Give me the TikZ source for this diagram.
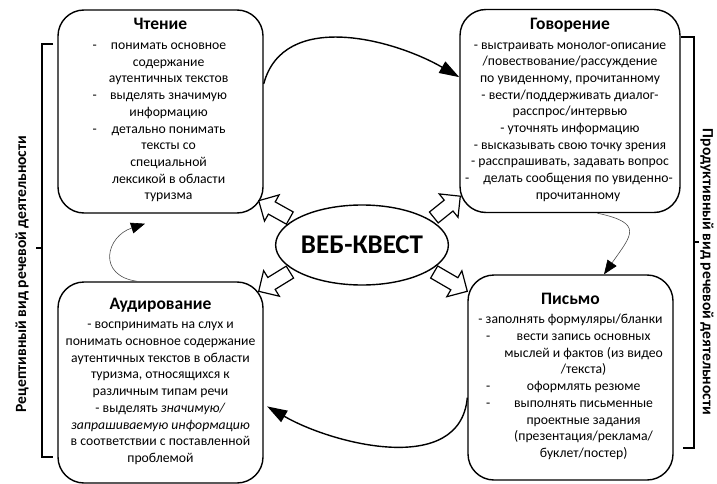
\documentclass[tikz,border=0pt]{standalone}
\usepackage{fontspec}
\setmainfont{Carlito}
\usetikzlibrary{shapes.geometric,arrows.meta,calc}

\newcommand\bodysize{\fontsize{13.7}{16.7}\selectfont}
\newcommand\headsize{\fontsize{17.5}{20}\selectfont\bfseries}
\newcommand\fatarrow[2]{%
  \coordinate (fa-t) at ($(#1)!4pt!(#2)$);
  \coordinate (fa-h) at ($(#2)!15pt!(#1)$);
  \draw[fat] ($(fa-t)!7pt!90:(#2)$) -- ($(fa-h)!7pt!90:(#2)$) --
    ($(fa-h)!15pt!90:(#2)$) -- (#2) -- ($(fa-h)!15pt!-90:(#2)$) --
    ($(fa-h)!7pt!-90:(#2)$) -- ($(fa-t)!7pt!-90:(#2)$) -- cycle;}

\begin{document}
\begin{tikzpicture}[
    x = 1pt, y = -1pt,
    skill/.style = {draw, line width=1.4pt, rounded corners=26pt,
      minimum width=205, minimum height=203, inner sep=0pt, font=\bodysize},
    quest/.style = {draw, ellipse, line width=1.4pt, minimum width=143,
      minimum height=80, inner sep=0pt, font=\fontsize{27}{30}\selectfont\bfseries},
    side/.style = {font=\fontsize{15.6}{18}\selectfont\bfseries},
    fat/.style = {draw, line width=1.2pt, fill=white, line join=miter},
    bigcurve/.style = {line width=1.4pt, -{Triangle[length=20pt,width=13pt]}},
    smallcurve/.style = {line width=0.6pt, black!70,
      -{Triangle[length=14pt,width=11pt,fill=black,color=black]}},
    bracket/.style = {line width=1.4pt}]

\useasboundingbox (0,0) rectangle (717,484);

\node[skill] (read) at (160.5,111.5) {\begin{tabular}{@{}c@{\hspace{12pt}}c@{}}
  \multicolumn{2}{c}{\headsize Чтение}\\[3pt]
  - & понимать основное\\
    & содержание\\
    & аутентичных текстов\\
  - & выделять значимую\\
    & информацию\\
  - & детально понимать\\
    & тексты со\\
    & специальной\\
    & лексикой в области\\
    & туризма
  \end{tabular}};
\node[skill, minimum width=220] (speak) at (570,111) {\begin{tabular}{@{}c@{\hspace{12pt}}c@{}}
  \multicolumn{2}{c}{\headsize Говорение}\\[3pt]
  \multicolumn{2}{c}{- выстраивать монолог-описание}\\
  \multicolumn{2}{c}{/повествование/рассуждение}\\
  \multicolumn{2}{c}{по увиденному, прочитанному}\\
  \multicolumn{2}{c}{- вести/поддерживать диалог-}\\
  \multicolumn{2}{c}{расспрос/интервью}\\
  \multicolumn{2}{c}{- уточнять информацию}\\
  \multicolumn{2}{c}{- высказывать свою точку зрения}\\
  \multicolumn{2}{c}{- расспрашивать, задавать вопрос}\\
  - & делать сообщения по увиденно-\\
    & прочитанному
  \end{tabular}};
\node[skill, minimum height=201] (listen) at (160.5,382.5) {\begin{tabular}{@{}c@{}}
  {\headsize Аудирование}\\[3pt]
  - воспринимать на слух и\\
  понимать основное содержание\\
  аутентичных текстов в области\\
  туризма, относящихся к\\
  различным типам речи\\
  - выделять \textit{значимую/}\\
  \textit{запрашиваемую информацию}\\
  в соответствии с поставленной\\
  проблемой
  \end{tabular}};
\node[skill, minimum height=205] (write) at (570.5,377.5) {\begin{tabular}{@{\hspace{8pt}}c@{\hspace{14pt}}c@{}}
  \multicolumn{2}{@{}c@{}}{\headsize Письмо}\\[3pt]
  \multicolumn{2}{@{}c@{}}{- заполнять формуляры/бланки}\\
  - & вести запись основных\\
    & мыслей и фактов (из видео\\
    & /текста)\\
  - & оформлять резюме\\
  - & выполнять письменные\\
    & проектные задания\\
    & (презентация/реклама/\\
    & буклет/постер)
  \end{tabular}};

\node[quest] (q) at (362,245) {ВЕБ-КВЕСТ};

\coordinate (tl) at ($(read.south east)+(-5,-13)$);
\coordinate (tr) at ($(speak.south west)+(1,-17)$);
\coordinate (bl) at ($(listen.north east)+(-5,10)$);
\coordinate (br) at ($(write.north west)+(0,17)$);
\fatarrow{q.160}{tl}
\fatarrow{q.20}{tr}
\fatarrow{q.200}{bl}
\fatarrow{q.340}{br}

\draw[bigcurve] (read.15) to[out=75, in=150] (speak.163);
\draw[bigcurve, shorten >=4pt] (write.191) to[out=265, in=-30] (listen.348);
\coordinate (readin) at ($(read.south)+(-15.5,10)$);
\draw[smallcurve] (listen.103) to[out=172, in=198, looseness=1.8] (readin);
\draw[smallcurve] (speak.-75) to[out=-12, in=55, looseness=2] (write.72);

\draw[bracket] (53,44) -- (42,44) -- (42,457) -- (53,457) (42,248) -- (36,248);
\draw[bracket] (681,37) -- (694,37) -- (694,448) -- (683,448) (694,242) -- (699,242);
\node[side, rotate=90] (recept) at (22,274) {Рецептивный вид речевой деятельности};
\node[side, rotate=-90] (product) at (707,272) {Продуктивный вид речевой деятельности};
\end{tikzpicture}
\end{document}
